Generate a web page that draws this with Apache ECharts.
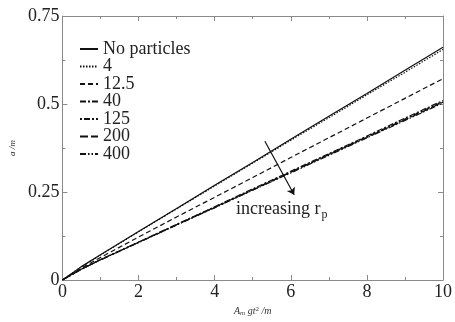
<!DOCTYPE html>
<html><head><meta charset="utf-8">
<script src="https://cdn.jsdelivr.net/npm/echarts@6/dist/echarts.min.js"></script>
<style>html,body{margin:0;padding:0;background:#fff}#c{width:455px;height:322px}</style>
</head><body><div id="c"></div>
<script>
const xValues = [0, 0.5, 1, 2, 3, 4, 5, 6, 7, 8, 9, 10];
const seriesNames = ['No particles', '4', '12.5', '40', '125', '200', '400'];
const noParticles = [0, 0.038, 0.072, 0.138, 0.203, 0.269, 0.334, 0.400, 0.465, 0.530, 0.596, 0.661];
const rp4        = [0, 0.038, 0.071, 0.137, 0.202, 0.267, 0.332, 0.397, 0.461, 0.526, 0.590, 0.655];
const rp12_5     = [0, 0.034, 0.064, 0.122, 0.179, 0.235, 0.291, 0.348, 0.404, 0.460, 0.516, 0.572];
const rp40       = [0, 0.031, 0.058, 0.108, 0.158, 0.208, 0.259, 0.309, 0.359, 0.409, 0.460, 0.510];
const rp125      = [0, 0.031, 0.058, 0.107, 0.157, 0.207, 0.257, 0.307, 0.357, 0.407, 0.457, 0.507];
const rp200      = [0, 0.031, 0.057, 0.107, 0.157, 0.206, 0.256, 0.306, 0.356, 0.405, 0.455, 0.505];
const rp400      = [0, 0.030, 0.057, 0.106, 0.156, 0.205, 0.255, 0.304, 0.354, 0.404, 0.453, 0.503];
const allSeries = [noParticles, rp4, rp12_5, rp40, rp125, rp200, rp400];
const dashes = ['solid', [1.5, 1.5], [5, 3], [6, 2, 2, 2], [2, 2, 6, 2], [8, 3], [6, 2, 1.5, 2, 1.5, 2]];
const xTicks = {min: 0, max: 10, interval: 2};
const yTicks = {min: 0, max: 0.75, interval: 0.25};
const arrowStart = [5.32, 0.394];
const arrowEnd = [6.09, 0.242];

const serif = '"Liberation Serif","DejaVu Serif",serif';
const axisCol = '#8a8a8a';
const chart = echarts.init(document.getElementById('c'), null, {renderer: 'canvas'});

function axisBase(show) {
  return {
    axisLine: {show: true, onZero: false, lineStyle: {color: axisCol, width: 1}},
    axisTick: {show: true, inside: true, length: 5, lineStyle: {color: axisCol}},
    minorTick: {show: true, splitNumber: 2, length: 3, lineStyle: {color: axisCol}},
    splitLine: {show: false},
    axisLabel: {show: show, color: '#222', fontFamily: serif, fontSize: 18, margin: 3},
  };
}

const series = allSeries.map((vals, i) => ({
  name: seriesNames[i],
  type: 'line',
  data: xValues.map((x, j) => [x, vals[j]]),
  symbol: 'none',
  smooth: false,
  lineStyle: {color: '#111', width: 1.2, type: dashes[i]},
  itemStyle: {color: '#111'},
  z: 10 - i,
  markLine: i === 0 ? {
    silent: true,
    symbol: ['none', 'arrow'],
    symbolSize: 7,
    label: {show: false},
    lineStyle: {color: '#111', width: 1.2, type: 'solid'},
    data: [[{coord: arrowStart}, {coord: arrowEnd}]]
  } : undefined
}));

chart.setOption({
  animation: false,
  backgroundColor: '#fff',
  grid: {left: 52, right: 10, top: 16, bottom: 35},
  legend: {
    orient: 'vertical',
    left: 74, top: 35,
    itemWidth: 18, itemHeight: 12, itemGap: -0.5,
    itemStyle: {color: 'rgba(0,0,0,0)', borderWidth: 0, opacity: 0},
    textStyle: {fontFamily: serif, fontSize: 18, color: '#222'},
    data: seriesNames
  },
  xAxis: [
    Object.assign(axisBase(true), {type: 'value', min: xTicks.min, max: xTicks.max, interval: xTicks.interval,
      name: '{i|A}{s|m}{i| gt}{p|2}{i| /m}', nameLocation: 'middle', nameGap: 26,
      nameTextStyle: {rich: {
        i: {fontFamily: serif, fontStyle: 'italic', fontSize: 10, color: '#333'},
        s: {fontFamily: serif, fontStyle: 'italic', fontSize: 7, color: '#333', verticalAlign: 'bottom', padding: [4,0,0,0]},
        p: {fontFamily: serif, fontSize: 7, color: '#333', verticalAlign: 'top', padding: [0,0,4,0]}
      }}}),
    Object.assign(axisBase(false), {type: 'value', position: 'top', min: xTicks.min, max: xTicks.max, interval: xTicks.interval})
  ],
  yAxis: [
    Object.assign(axisBase(true), {type: 'value', min: yTicks.min, max: yTicks.max, interval: yTicks.interval,
      name: 'a /m', nameLocation: 'middle', nameGap: 38, nameRotate: 90,
      nameTextStyle: {fontFamily: serif, fontStyle: 'italic', fontSize: 9, color: '#333'}}),
    Object.assign(axisBase(false), {type: 'value', position: 'right', min: yTicks.min, max: yTicks.max, interval: yTicks.interval})
  ],
  graphic: [{
    type: 'text', left: 236, top: 200,
    style: {
      text: '{a|increasing r}{b|p}',
      rich: {
        a: {fontFamily: serif, fontSize: 18, fill: '#222'},
        b: {fontFamily: serif, fontSize: 12, fill: '#222', padding: [12, 0, 0, 1]}
      }
    }
  }],
  series: series
});
</script>
</body></html>
